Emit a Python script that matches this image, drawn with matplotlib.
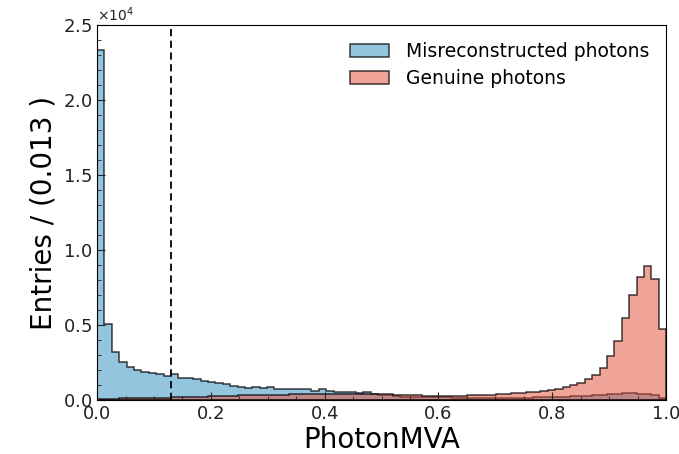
import numpy as np
import matplotlib
matplotlib.use('Agg')
import matplotlib.pyplot as plt
from matplotlib.ticker import AutoMinorLocator, MultipleLocator

# bin contents (units of 1e4 entries), 77 bins of width 0.013 from 0 to 1
fake = [2.33, 0.505, 0.322, 0.255, 0.222, 0.200, 0.184, 0.178, 0.171, 0.160,
        0.175, 0.149, 0.144, 0.138, 0.124, 0.118, 0.111, 0.104, 0.092, 0.089,
        0.078, 0.085, 0.078, 0.089, 0.074, 0.073, 0.072, 0.071, 0.070, 0.062,
        0.076, 0.062, 0.056, 0.055, 0.051, 0.046, 0.052, 0.040, 0.034, 0.030,
        0.027, 0.023, 0.021, 0.019, 0.018, 0.018, 0.017, 0.017, 0.016, 0.016,
        0.015, 0.015, 0.015, 0.015, 0.015, 0.015, 0.015, 0.016, 0.016, 0.017,
        0.018, 0.019, 0.020, 0.022, 0.024, 0.026, 0.028, 0.031, 0.034, 0.038,
        0.041, 0.044, 0.045, 0.043, 0.038, 0.030, 0.012]
genuine = [0.006, 0.008, 0.009, 0.010, 0.011, 0.012, 0.013, 0.014, 0.015, 0.016,
           0.022, 0.020, 0.021, 0.022, 0.023, 0.025, 0.026, 0.027, 0.028, 0.030,
           0.031, 0.032, 0.033, 0.034, 0.035, 0.036, 0.037, 0.038, 0.039, 0.040,
           0.041, 0.042, 0.042, 0.043, 0.043, 0.043, 0.042, 0.041, 0.040, 0.038,
           0.036, 0.034, 0.032, 0.030, 0.028, 0.027, 0.027, 0.027, 0.027, 0.027,
           0.030, 0.030, 0.034, 0.034, 0.040, 0.040, 0.048, 0.048, 0.055, 0.055,
           0.062, 0.068, 0.071, 0.089, 0.100, 0.115, 0.138, 0.167, 0.211, 0.296,
           0.395, 0.544, 0.700, 0.822, 0.895, 0.805, 0.473]
labels = ['Misreconstructed photons', 'Genuine photons']
cut = 0.13

edges = np.linspace(0, 1, len(fake) + 1)
centers = 0.5 * (edges[:-1] + edges[1:])

fig = plt.figure(figsize=(6.79, 4.54), dpi=100)
ax = fig.add_axes([0.143, 0.119, 0.838, 0.826])

ax.hist(centers, bins=edges, weights=np.array(fake) * 1e4, histtype='stepfilled',
        facecolor=(0.169, 0.549, 0.745, 0.5), edgecolor=(0, 0, 0, 0.75),
        linewidth=1.1, label=labels[0])
ax.hist(centers, bins=edges, weights=np.array(genuine) * 1e4, histtype='stepfilled',
        facecolor=(0.890, 0.290, 0.200, 0.5), edgecolor=(0, 0, 0, 0.75),
        linewidth=1.1, label=labels[1])
ax.axvline(cut, color='black', linestyle=(0, (4, 2.5)), linewidth=1.3)

ax.set_xlim(0, 1)
ax.set_ylim(0, 2.5e4)
ax.xaxis.set_major_locator(MultipleLocator(0.2))
ax.xaxis.set_minor_locator(AutoMinorLocator(4))
ax.yaxis.set_major_locator(MultipleLocator(5000))
ax.yaxis.set_minor_locator(AutoMinorLocator(5))
ax.ticklabel_format(axis='y', style='sci', scilimits=(0, 0), useMathText=True)
ax.yaxis.get_offset_text().set_fontsize(10)
ax.tick_params(which='both', direction='in', labelsize=13, colors='#222222')
ax.tick_params(which='major', length=6)
ax.tick_params(which='minor', length=3)

ax.set_xlabel('PhotonMVA', fontsize=20, labelpad=2)
ax.set_ylabel('Entries / (0.013 )', fontsize=20)
ax.legend(loc='upper right', frameon=False, fontsize=13.5, handlelength=2.1,
          handletextpad=0.9, labelspacing=0.45, borderaxespad=0.5)

fig.savefig('out.png', dpi=100)
